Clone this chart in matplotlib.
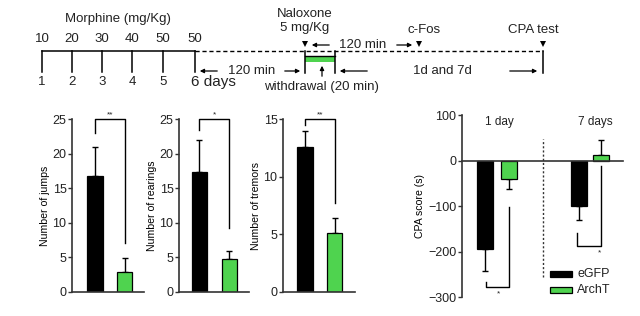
import matplotlib
matplotlib.use("Agg")
import matplotlib.pyplot as plt

plt.rcParams['font.family'] = ['Liberation Sans', 'DejaVu Sans']
plt.rcParams['text.color'] = '#222222'

W, H = 640, 316
GREEN = '#4fd34f'

# ---------------- data ----------------
groups = ['eGFP', 'ArchT']
jumps = [16.7, 2.9]
jumps_err = [4.3, 2.0]
rearings = [17.3, 4.7]
rearings_err = [4.7, 1.2]
tremors = [12.6, 5.1]
tremors_err = [1.4, 1.3]
cpa_day1 = [-195, -40]
cpa_day1_err = [47, 23]
cpa_day7 = [-99, 11]
cpa_day7_err = [31, 33]
cpa_labels = ['1 day', '7 days']

morphine_doses = ['10', '20', '30', '40', '50', '50']
day_labels = ['1', '2', '3', '4', '5', '6 days']

fig = plt.figure(figsize=(W / 100, H / 100), dpi=100)


def px_axes(x0, y0, x1, y1, **kw):
    return fig.add_axes([x0 / W, 1 - y1 / H, (x1 - x0) / W, (y1 - y0) / H], **kw)


# ---------------- timeline ----------------
tl = px_axes(0, 0, W, H)
tl.set_xlim(0, W)
tl.set_ylim(H, 0)
tl.axis('off')
tl.patch.set_alpha(0)
fs = 9.5
ticks_x = [42, 72, 102, 132, 163, 195]
tl.plot([42, 195], [51, 51], color='k', lw=1.1)
for x, d, lab in zip(ticks_x, morphine_doses, day_labels):
    tl.plot([x, x], [51, 72], color='k', lw=1.1)
    tl.text(x, 39, d, ha='center', va='center', fontsize=fs)
    if lab == '6 days':
        tl.text(x - 4, 82, lab, ha='left', va='center', fontsize=11)
    else:
        tl.text(x, 82, lab, ha='center', va='center', fontsize=fs)
tl.text(118, 19, 'Morphine (mg/Kg)', ha='center', va='center', fontsize=fs)
tl.plot([195, 543], [51, 51], color='k', lw=1, ls=(0, (3, 2)))

arrow = dict(arrowstyle='-|>', color='k', lw=0.9, mutation_scale=6)
# 120 min (morphine -> naloxone)
tl.annotate('', xy=(197, 71), xytext=(220, 71), arrowprops=arrow)
tl.annotate('', xy=(303, 71), xytext=(282, 71), arrowprops=arrow)
tl.text(252, 71, '120 min', ha='center', va='center', fontsize=fs)

# naloxone box
tl.plot([305, 305], [51, 73], color='k', lw=1.1)
tl.plot([335, 335], [51, 73], color='k', lw=1.1)
tl.plot([305, 335], [56, 56], color='k', lw=1)
tl.fill_between([305, 335], 57, 62, color=GREEN, lw=0)
tl.annotate('', xy=(322, 63), xytext=(322, 79), arrowprops=arrow)
tl.text(321, 87, 'withdrawal (20 min)', ha='center', va='center', fontsize=fs)
tl.text(305, 14, 'Naloxone', ha='center', va='center', fontsize=fs)
tl.text(305, 28, '5 mg/Kg', ha='center', va='center', fontsize=fs)

for x in [305, 419, 543]:
    tl.plot([x], [44], marker='v', color='k', ms=5, mew=0)
tl.plot([543, 543], [51, 73], color='k', lw=1.1)
tl.annotate('', xy=(309, 45), xytext=(332, 45), arrowprops=arrow)
tl.text(363, 45, '120 min', ha='center', va='center', fontsize=fs)
tl.annotate('', xy=(415, 45), xytext=(394, 45), arrowprops=arrow)
tl.text(424, 30, 'c-Fos', ha='center', va='center', fontsize=fs)
tl.text(533, 30, 'CPA test', ha='center', va='center', fontsize=fs)
tl.annotate('', xy=(337, 71), xytext=(370, 71), arrowprops=arrow)
tl.text(442, 71, '1d and 7d', ha='center', va='center', fontsize=fs)
tl.annotate('', xy=(540, 71), xytext=(507, 71), arrowprops=arrow)


# ---------------- bar panels ----------------
def style(ax):
    for s in ['top', 'right']:
        ax.spines[s].set_visible(False)
    for s in ['left', 'bottom']:
        ax.spines[s].set_linewidth(1.2)
        ax.spines[s].set_color('#333333')
    ax.tick_params(axis='y', labelsize=9, length=3, width=1, pad=1, colors='#333333',
                   labelcolor='#222222')
    ax.tick_params(axis='x', length=0, labelbottom=False)
    ax.patch.set_alpha(0)


def bar_panel(box, vals, errs, xlim, width, ymax, yticks, ylabel, br, star):
    ax = px_axes(*box)
    pos = [0, 1]
    ax.bar(pos, vals, width=width, color=['k', GREEN], edgecolor='k', lw=0.9, zorder=2)
    ax.errorbar(pos, vals, yerr=[[0, 0], errs], fmt='none', ecolor='k',
                elinewidth=1, capsize=2.5, capthick=1, zorder=1)
    ax.set_xlim(*xlim)
    ax.set_ylim(0, ymax)
    ax.set_yticks(yticks)
    ax.set_ylabel(ylabel, fontsize=7.6, labelpad=2)
    l, r = br
    ax.plot([0, 0, 1, 1], [l, ymax, ymax, r], color='k', lw=1, clip_on=False)
    ax.text(0.5, ymax * 1.005, star, ha='center', va='bottom', fontsize=6)
    style(ax)
    return ax


bar_panel((72, 119, 144, 292), jumps, jumps_err, (-0.78, 1.66), 0.54, 25,
          [0, 5, 10, 15, 20, 25], 'Number of jumps', (23, 7.1), '**')
bar_panel((179, 119, 249, 292), rearings, rearings_err, (-0.68, 1.65), 0.5, 25,
          [0, 5, 10, 15, 20, 25], 'Number of rearings', (23.4, 9.2), '*')
bar_panel((283, 119, 355, 292), tremors, tremors_err, (-0.75, 1.69), 0.53, 15,
          [0, 5, 10, 15], 'Number of tremors', (14.5, 7.7), '**')

# ---------------- CPA panel ----------------
ax = px_axes(462, 115, 623, 297)
w = 0.67
p1 = [0, 1]
p2 = [3.9, 4.83]
colors = ['k', GREEN]
for pos, vals, errs in [(p1, cpa_day1, cpa_day1_err), (p2, cpa_day7, cpa_day7_err)]:
    for p, v, e, c, g in zip(pos, vals, errs, colors, groups):
        ax.bar(p, v, width=w, color=c, edgecolor='k', lw=0.9, zorder=2)
        sign = 1 if v >= 0 else -1
        ax.errorbar(p, v, yerr=[[e if sign < 0 else 0], [e if sign > 0 else 0]],
                    fmt='none', ecolor='k', elinewidth=1, capsize=2.5, capthick=1, zorder=1)
ax.set_xlim(-0.96, 5.75)
ax.set_ylim(-300, 100)
ax.set_yticks([-300, -200, -100, 0, 100])
ax.set_ylabel('CPA score (s)', fontsize=7.6, labelpad=2)
style(ax)
ax.spines['bottom'].set_position(('data', 0))
ax.axvline(2.42, ymin=0.11, ymax=1 - (139 - 115) / 182, color='#333333', lw=1,
           ls=(0, (1.5, 1.5)))
# significance brackets
ax.plot([0.05, 0.05, 1, 1], [-267, -277, -277, -103], color='k', lw=1)
ax.text(0.55, -285, '*', ha='center', va='top', fontsize=6)
ax.plot([3.85, 3.85, 4.85, 4.85], [-160, -187, -187, -13], color='k', lw=1)
ax.text(4.75, -195, '*', ha='center', va='top', fontsize=6)
ax.text(0.6, 85, cpa_labels[0], ha='center', va='center', fontsize=8.5)
ax.text(4.6, 85, cpa_labels[1], ha='center', va='center', fontsize=8.5)

# legend
lg = px_axes(0, 0, W, H)
lg.set_xlim(0, W)
lg.set_ylim(H, 0)
lg.axis('off')
lg.patch.set_alpha(0)
for y, c, g in [(274, 'k', groups[0]), (290, GREEN, groups[1])]:
    lg.add_patch(plt.Rectangle((550, y - 3), 22, 6, facecolor=c, edgecolor='k', lw=0.9))
    lg.text(577, y, g, ha='left', va='center', fontsize=9)

fig.savefig('out.png', dpi=100)
